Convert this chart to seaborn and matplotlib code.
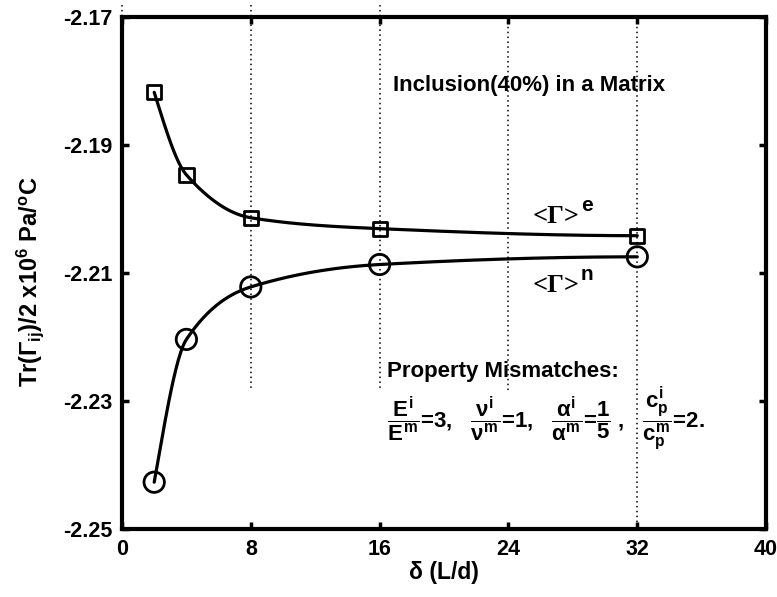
import numpy as np
import pandas as pd
import matplotlib
matplotlib.use("Agg")
import matplotlib.pyplot as plt
import seaborn as sns

# Aspect ratio delta = L/d
delta = [2, 4, 8, 16, 32]
# Trace of the averaged tensor, Tr(Gamma_ij)/2 (x1e6 Pa/oC)
gamma_e = [-2.1818, -2.1947, -2.2014, -2.2031, -2.2042]
gamma_n = [-2.2427, -2.2204, -2.2122, -2.2087, -2.2075]

x_ticks = [0, 8, 16, 24, 32, 40]
y_ticks = [-2.17, -2.19, -2.21, -2.23, -2.25]


def pchip(x, y, xs):
    """Shape-preserving piecewise cubic Hermite curve through (x, y)."""
    x = np.asarray(x, float)
    y = np.asarray(y, float)
    h = np.diff(x)
    d = np.diff(y) / h
    n = len(x)
    m = np.zeros(n)
    for k in range(1, n - 1):
        if d[k - 1] * d[k] > 0:
            w1 = 2 * h[k] + h[k - 1]
            w2 = h[k] + 2 * h[k - 1]
            m[k] = (w1 + w2) / (w1 / d[k - 1] + w2 / d[k])

    def end_slope(h0, h1, d0, d1):
        s = ((2 * h0 + h1) * d0 - h0 * d1) / (h0 + h1)
        if np.sign(s) != np.sign(d0):
            s = 0.0
        elif np.sign(d0) != np.sign(d1) and abs(s) > abs(3 * d0):
            s = 3 * d0
        return s

    m[0] = end_slope(h[0], h[1], d[0], d[1])
    m[-1] = end_slope(h[-1], h[-2], d[-1], d[-2])
    xs = np.asarray(xs, float)
    idx = np.clip(np.searchsorted(x, xs) - 1, 0, n - 2)
    t = (xs - x[idx]) / h[idx]
    h00 = 2 * t**3 - 3 * t**2 + 1
    h10 = t**3 - 2 * t**2 + t
    h01 = -2 * t**3 + 3 * t**2
    h11 = t**3 - t**2
    return (h00 * y[idx] + h10 * h[idx] * m[idx]
            + h01 * y[idx + 1] + h11 * h[idx] * m[idx + 1])


sns.set_style("ticks")
plt.rcParams["font.family"] = ["Liberation Sans", "DejaVu Sans"]
plt.rcParams["font.weight"] = "bold"
plt.rcParams["text.color"] = "black"
plt.rcParams["axes.labelcolor"] = "black"
plt.rcParams["xtick.color"] = "black"
plt.rcParams["ytick.color"] = "black"
plt.rcParams["mathtext.fontset"] = "custom"
plt.rcParams["mathtext.rm"] = "Liberation Sans:bold"
plt.rcParams["mathtext.it"] = "Liberation Sans:bold"
plt.rcParams["mathtext.bf"] = "Liberation Sans:bold"
plt.rcParams["mathtext.sf"] = "Liberation Sans:bold"

fig = plt.figure(figsize=(7.77, 5.97), dpi=100)
ax = fig.add_axes([0.157, 0.114, 0.829, 0.858])

xs = np.linspace(delta[0], delta[-1], 400)
curves = pd.DataFrame({
    "delta": np.concatenate([xs, xs]),
    "value": np.concatenate([pchip(delta, gamma_e, xs), pchip(delta, gamma_n, xs)]),
    "series": ["e"] * len(xs) + ["n"] * len(xs),
})
sns.lineplot(data=curves, x="delta", y="value", units="series", estimator=None,
             color="black", lw=2.3, ax=ax, zorder=3)

sns.scatterplot(x=delta, y=gamma_e, marker="s", s=105, facecolor="none",
                edgecolor="black", linewidth=2.0, ax=ax, zorder=4)
sns.scatterplot(x=delta, y=gamma_n, marker="o", s=215, facecolor="none",
                edgecolor="black", linewidth=2.0, ax=ax, zorder=4)

# dotted guide lines
dot = dict(color="black", lw=1.1, ls=(0, (1, 2.2)), clip_on=False, zorder=1)
ax.plot([0, 0], [-2.1681, -2.170], **dot)
for xv in (8, 16):
    ax.plot([xv, xv], [-2.1681, -2.2284], **dot)
ax.plot([24, 24], [-2.170, -2.2284], **dot)
ax.plot([32, 32], [-2.170, -2.250], **dot)

ax.set_xlim(0, 40)
ax.set_ylim(-2.25, -2.17)
ax.set_xticks(x_ticks)
ax.set_yticks(y_ticks)
ax.set_xticklabels([str(v) for v in x_ticks])
ax.set_yticklabels([f"{v:.2f}" for v in y_ticks])
ax.tick_params(direction="in", length=5, width=2.5, labelsize=15.5,
               top=True, right=True, pad=7)
for sp in ax.spines.values():
    sp.set_linewidth(3.0)
    sp.set_color("black")

ax.set_xlabel(r"δ (L/d)", fontsize=16.5, fontweight="bold")
ax.xaxis.set_label_coords(0.5, -0.062)
ax.set_ylabel(r"Tr($\Gamma_{ij}$)/2 x10$^6$ Pa/$^o$C", fontsize=17,
              fontweight="bold")
ax.yaxis.set_label_coords(-0.118, 0.482)

ax.text(16.8, -2.1808, "Inclusion(40%) in a Matrix", fontsize=16,
        fontweight="bold", va="center", ha="left")

# curve labels: <Gamma> with a superscript
for yb, sup in ((-2.2022, "e"), (-2.2130, "n")):
    t = ax.text(25.47, yb, "<Γ>", fontsize=19, family="Liberation Serif",
                fontweight="bold", va="baseline", ha="left")
    ax.annotate(sup, xy=(1.0, 0.0), xycoords=t, xytext=(1.5, 12),
                textcoords="offset points", fontsize=15, fontweight="bold",
                va="baseline", ha="left")

ax.text(16.45, -2.2254, "Property Mismatches:", fontsize=16,
        fontweight="bold", va="center", ha="left")
ax.text(16.45, -2.2341,
        r"$\dfrac{E^i}{E^m}$=3,   $\dfrac{\nu^i}{\nu^m}$=1,   "
        r"$\dfrac{\alpha^i}{\alpha^m}$=$\dfrac{1}{5}$ ,   $\dfrac{c_p^i}{c_p^m}$=2.",
        fontsize=16, fontweight="bold", va="baseline", ha="left")

fig.savefig("out.png", dpi=100)
